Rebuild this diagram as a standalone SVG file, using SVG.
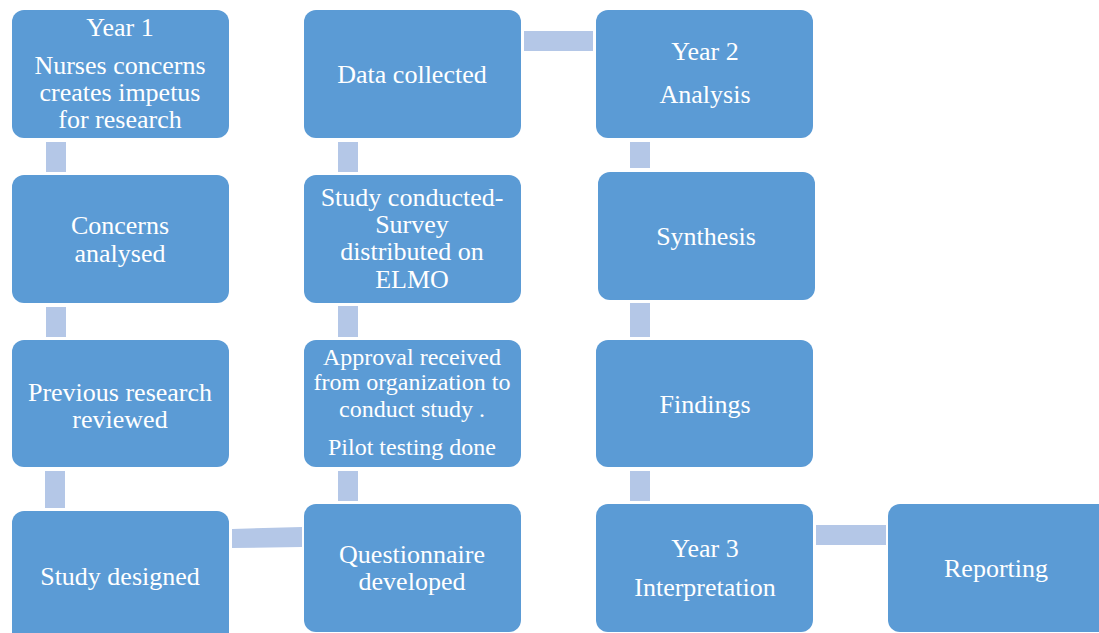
<svg xmlns="http://www.w3.org/2000/svg" width="1099" height="633" viewBox="0 0 1099 633">
<style>
.box{fill:#5b9bd5;}
.con{fill:#b4c7e7;}
text{font-family:"Liberation Serif","Times New Roman",serif;fill:#ffffff;text-anchor:middle;font-size:26px;}
.sm{font-size:24px;}
</style>
<rect width="1099" height="633" fill="#ffffff"/>
<g id="connectors">
<rect class="con" x="46" y="142" width="20" height="30"/>
<rect class="con" x="46" y="307" width="20" height="30"/>
<rect class="con" x="45" y="471" width="20" height="37"/>
<polygon class="con" points="232,529 302,527 302,547 232,548"/>
<rect class="con" x="338" y="471" width="20" height="30"/>
<rect class="con" x="338" y="306" width="20" height="31"/>
<rect class="con" x="338" y="142" width="20" height="30"/>
<rect class="con" x="524" y="31" width="69" height="20"/>
<rect class="con" x="630" y="142" width="20" height="26"/>
<rect class="con" x="630" y="303" width="20" height="34"/>
<rect class="con" x="630" y="471" width="20" height="30"/>
<rect class="con" x="816" y="525" width="70" height="20"/>
</g>
<g id="n1"><rect class="box" x="12" y="10" width="217" height="128" rx="12"/>
<text x="120" y="36">Year 1</text><text x="120" y="74">Nurses concerns</text><text x="120" y="101">creates impetus</text><text x="120" y="128">for research</text></g>
<g id="n2"><rect class="box" x="12" y="175" width="217" height="128" rx="12"/>
<text x="120" y="234">Concerns</text><text x="120" y="262">analysed</text></g>
<g id="n3"><rect class="box" x="12" y="340" width="217" height="127" rx="12"/>
<text x="120" y="401">Previous research</text><text x="120" y="428">reviewed</text></g>
<g id="n4"><rect class="box" x="12" y="511" width="217" height="140" rx="12"/>
<text x="120" y="585">Study designed</text></g>
<g id="n5"><rect class="box" x="304" y="504" width="217" height="128" rx="12"/>
<text x="412" y="563">Questionnaire</text><text x="412" y="590">developed</text></g>
<g id="n6"><rect class="box" x="304" y="340" width="217" height="127" rx="12"/>
<text class="sm" x="412" y="365">Approval received</text><text class="sm" x="412" y="390">from organization to</text><text class="sm" x="412" y="417">conduct study .</text><text class="sm" x="412" y="455">Pilot testing done</text></g>
<g id="n7"><rect class="box" x="304" y="175" width="217" height="128" rx="12"/>
<text x="412" y="206">Study conducted-</text><text x="412" y="233">Survey</text><text x="412" y="260">distributed on</text><text x="412" y="288">ELMO</text></g>
<g id="n8"><rect class="box" x="304" y="10" width="217" height="128" rx="12"/>
<text x="412" y="83">Data collected</text></g>
<g id="n9"><rect class="box" x="596" y="10" width="217" height="128" rx="12"/>
<text x="705" y="60">Year 2</text><text x="705" y="103">Analysis</text></g>
<g id="n10"><rect class="box" x="598" y="172" width="217" height="128" rx="12"/>
<text x="706" y="245">Synthesis</text></g>
<g id="n11"><rect class="box" x="596" y="340" width="217" height="127" rx="12"/>
<text x="705" y="413">Findings</text></g>
<g id="n12"><rect class="box" x="596" y="504" width="217" height="128" rx="12"/>
<text x="705" y="557">Year 3</text><text x="705" y="596">Interpretation</text></g>
<g id="n13"><rect class="box" x="888" y="504" width="225" height="128" rx="12"/>
<text x="996" y="577">Reporting</text></g>
</svg>
